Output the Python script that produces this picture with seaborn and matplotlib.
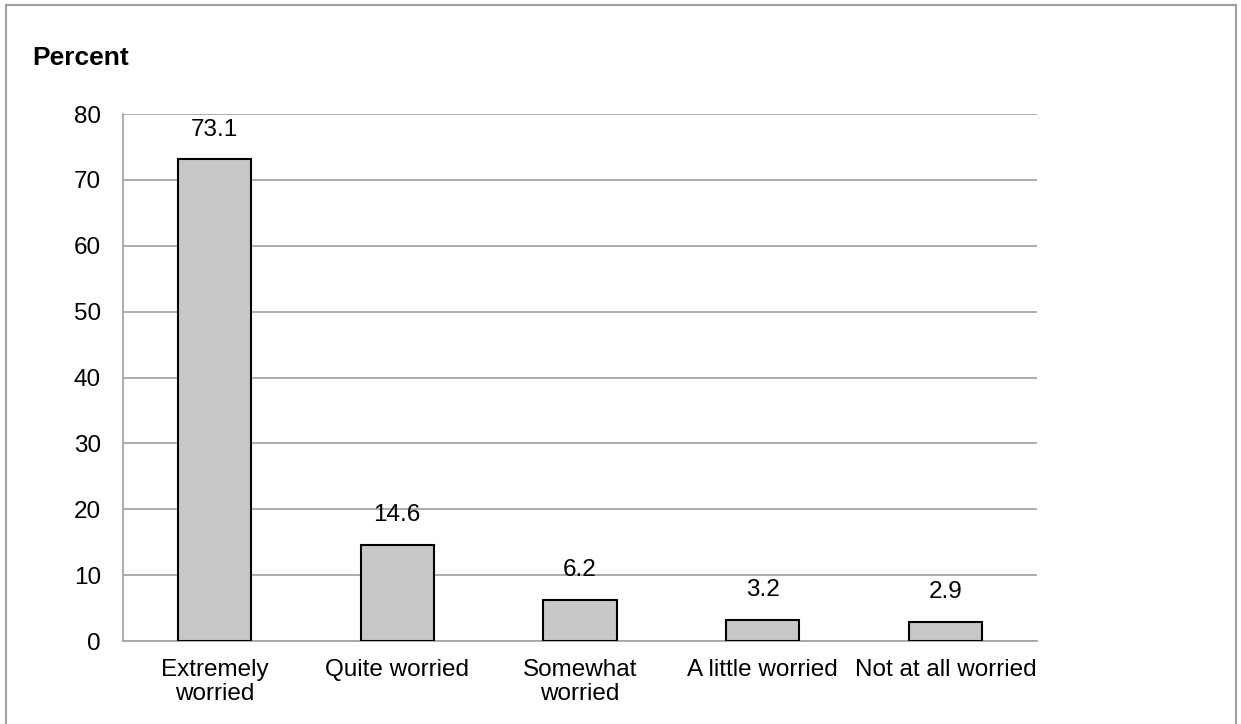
import matplotlib
matplotlib.use('Agg')
import matplotlib.pyplot as plt
import matplotlib.patches as mpatches
import pandas as pd
import seaborn as sns

# data
categories = ['Extremely\nworried', 'Quite worried', 'Somewhat\nworried', 'A little worried', 'Not at all worried']
percent = [73.1, 14.6, 6.2, 3.2, 2.9]
yticks = [0, 10, 20, 30, 40, 50, 60, 70, 80]

df = pd.DataFrame({'Worry': categories, 'Percent': percent})

sns.set_style('white')
plt.rcParams['font.family'] = ['Liberation Sans', 'DejaVu Sans']
plt.rcParams['text.color'] = 'black'
plt.rcParams['xtick.color'] = 'black'
plt.rcParams['ytick.color'] = 'black'

fig = plt.figure(figsize=(12.41, 7.24), dpi=100)
ax = fig.add_axes([0.0991, 0.1146, 0.7365, 0.7279])

sns.barplot(data=df, x='Worry', y='Percent', color='#c8c8c8', saturation=1,
            width=0.4, edgecolor='black', linewidth=1.5, ax=ax, zorder=3)

ax.set_ylim(0, 80)
ax.set_yticks(yticks)
ax.set_xlim(-0.5, len(categories) - 0.5)
ax.yaxis.grid(True, color='#a6a6a6', linewidth=1.3, zorder=0)
ax.set_axisbelow(True)

for side in ['top', 'right']:
    ax.spines[side].set_visible(False)
for side in ['left', 'bottom']:
    ax.spines[side].set_color('#a6a6a6')
    ax.spines[side].set_linewidth(1.3)

ax.tick_params(axis='y', length=0, pad=16, labelsize=17.5, labelcolor='black')
ax.tick_params(axis='x', length=0, pad=13, labelsize=17.5, labelcolor='black')
for lab in ax.get_xticklabels():
    lab.set_linespacing(1.1)
ax.set_xlabel('')
ax.set_ylabel('')

ax.bar_label(ax.containers[0], fmt='%.1f', padding=13.5, fontsize=17.5, color='black')

fig.text(32 / 1241, 1 - 58 / 724, 'Percent', fontsize=19, fontweight='bold', va='center', ha='left',
         color='black')

# grey frame of the chart area
frame = mpatches.Rectangle((6 / 1241, -0.2), 1230 / 1241, 1.2 - 5 / 724, transform=fig.transFigure,
                           fill=False, edgecolor='#a0a0a0', linewidth=1.5, clip_on=False)
fig.patches.append(frame)

fig.savefig('out.png', dpi=100)
